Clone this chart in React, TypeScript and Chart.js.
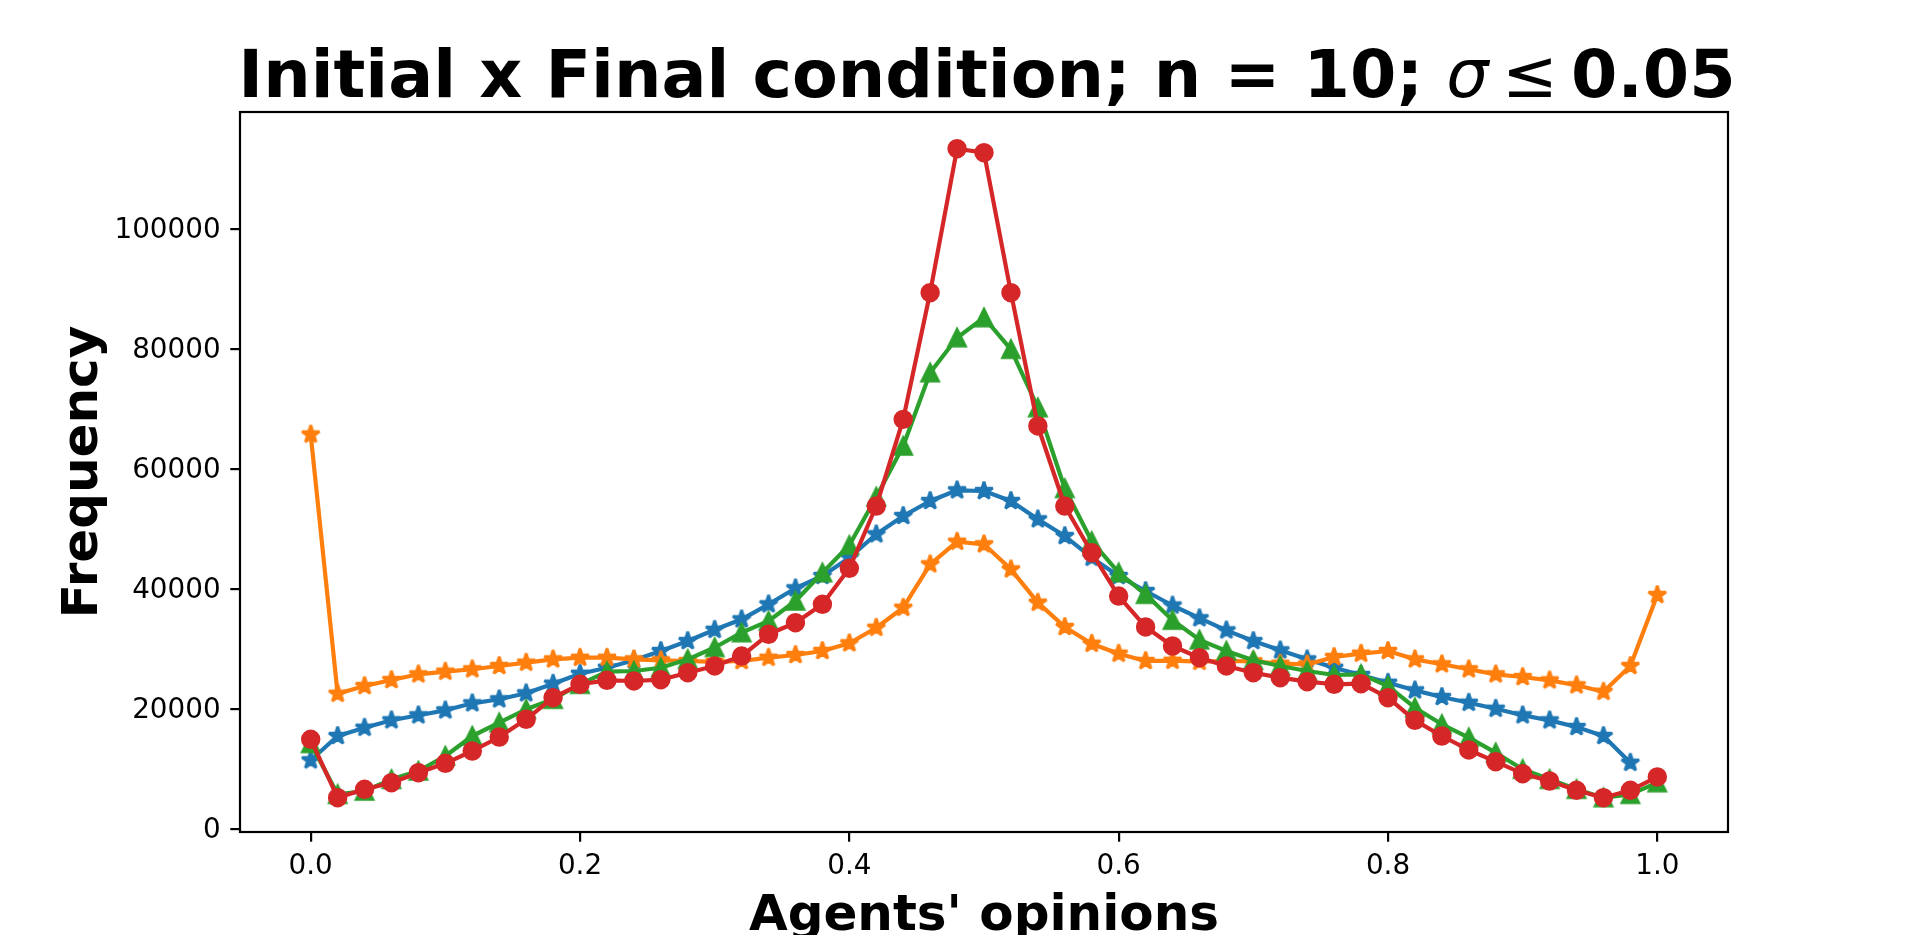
import React, { useEffect, useRef } from "react";
import { Chart, registerables } from "chart.js";

Chart.register(...registerables);

// ---- data ----
const opinions = [
  0.0, 0.02, 0.04, 0.06, 0.08, 0.1, 0.12, 0.14, 0.16, 0.18,
  0.2, 0.22, 0.24, 0.26, 0.28, 0.3, 0.32, 0.34, 0.36, 0.38,
  0.4, 0.42, 0.44, 0.46, 0.48, 0.5, 0.52, 0.54, 0.56, 0.58,
  0.6, 0.62, 0.64, 0.66, 0.68, 0.7, 0.72, 0.74, 0.76, 0.78,
  0.8, 0.82, 0.84, 0.86, 0.88, 0.9, 0.92, 0.94, 0.96, 0.98, 1.0,
];

const seriesBlue = [
  11400, 15450, 16830, 18070, 18900, 19730, 20900, 21570, 22570, 24170,
  25830, 26830, 28070, 29620, 31280, 33150, 34900, 37400, 40070, 42120,
  45170, 49070, 52120, 54620, 56400, 56280, 54620, 51570, 48780, 45170,
  42120, 39620, 37200, 35080, 33060, 31280, 29730, 28230, 26830, 25620,
  24330, 23060, 21950, 21000, 20000, 18900, 18060, 16950, 15450, 11000, null,
];

const seriesOrange = [
  65700, 22500, 23780, 24780, 25730, 26170, 26570, 27120, 27670, 28230,
  28500, 28500, 28230, 28070, 27950, 27800, 27950, 28500, 28950, 29620,
  30900, 33500, 36830, 44070, 47830, 47400, 43230, 37670, 33620, 30830,
  29170, 27950, 28000, 27830, 27950, 27900, 27500, 27380, 28620, 29170,
  29620, 28230, 27400, 26570, 25730, 25280, 24730, 23900, 22830, 27120, 38950,
];

const seriesGreen = [
  14200, 5730, 6280, 8230, 9620, 12120, 15450, 17670, 19900, 21570,
  24070, 26170, 26280, 26830, 28230, 30200, 32670, 34620, 37950, 42670,
  47250, 55300, 63780, 76000, 81830, 85170, 79900, 70170, 56700, 47900,
  42670, 39070, 34760, 31480, 29620, 28070, 27120, 26280, 25620, 25730,
  23780, 20170, 17400, 15170, 12670, 9900, 8230, 6570, 5170, 5730, 7670,
];

const seriesRed = [
  14900, 5170, 6570, 7670, 9330, 10900, 12950, 15280, 18230, 21830,
  24070, 24730, 24620, 24830, 26000, 27120, 28780, 32400, 34330, 37400,
  43400, 53780, 68220, 89330, 113330, 112670, 89330, 67120, 53780, 46000,
  38780, 33620, 30450, 28500, 27120, 26000, 25170, 24500, 24070, 24170,
  21830, 18060, 15450, 13120, 11170, 9170, 7950, 6400, 5170, 6400, 8620,
];

const xTickValues = [0.0, 0.2, 0.4, 0.6, 0.8, 1.0];
const yTickValues = [0, 20000, 40000, 60000, 80000, 100000];

const titleMain = "Initial x Final condition; n = 10; ";
const titleSymbol = "σ";
const titleRelation = "≤";
const titleValue = "0.05";
const xAxisTitle = "Agents' opinions";
const yAxisTitle = "Frequency";

const FONT = '"DejaVu Sans"';

function makeMarker(kind: "star" | "triangle", color: string): HTMLCanvasElement {
  const size = 34;
  const c = document.createElement("canvas");
  c.width = size;
  c.height = size;
  const ctx = c.getContext("2d")!;
  const cx = size / 2;
  const cy = size / 2;
  ctx.beginPath();
  if (kind === "star") {
    const r = 9.2;
    for (let i = 0; i < 10; i++) {
      const rad = i % 2 === 0 ? r : r * 0.381966;
      const a = -Math.PI / 2 + (i * Math.PI) / 5;
      const px = cx + rad * Math.cos(a);
      const py = cy + rad * Math.sin(a);
      if (i === 0) ctx.moveTo(px, py);
      else ctx.lineTo(px, py);
    }
    ctx.lineJoin = "bevel";
  } else {
    const r = 8.33;
    ctx.moveTo(cx, cy - r);
    ctx.lineTo(cx - r, cy + r);
    ctx.lineTo(cx + r, cy + r);
    ctx.lineJoin = "miter";
  }
  ctx.closePath();
  ctx.fillStyle = color;
  ctx.fill();
  ctx.lineWidth = 2.8;
  ctx.strokeStyle = color;
  ctx.stroke();
  return c;
}

const framePlugin = {
  id: "frame",
  afterDatasetsDraw(chart: any) {
    const { ctx, chartArea } = chart;
    ctx.save();
    ctx.strokeStyle = "#000";
    ctx.lineWidth = 2.2;
    ctx.strokeRect(
      chartArea.left,
      chartArea.top,
      chartArea.right - chartArea.left,
      chartArea.bottom - chartArea.top
    );
    ctx.restore();
  },
};

const titlePlugin = {
  id: "mixedTitle",
  afterDraw(chart: any) {
    const { ctx, chartArea } = chart;
    const size = 66.7;
    const gap = 0.2 * size;
    const parts: { t?: string; f?: string; gap?: number }[] = [
      { t: titleMain, f: `bold ${size}px ${FONT}` },
      { t: titleSymbol, f: `italic ${size}px ${FONT}` },
      { gap },
      { t: titleRelation, f: `${size}px ${FONT}` },
      { gap },
      { t: titleValue, f: `bold ${size}px ${FONT}` },
    ];
    ctx.save();
    let total = 0;
    const widths: number[] = parts.map((p) => {
      if (p.t) {
        ctx.font = p.f;
        const w = ctx.measureText(p.t).width;
        total += w;
        return w;
      }
      total += p.gap!;
      return p.gap!;
    });
    let x = (chartArea.left + chartArea.right) / 2 - total / 2 + 3;
    const baseline = 97;
    ctx.fillStyle = "#000";
    ctx.textBaseline = "alphabetic";
    ctx.textAlign = "left";
    parts.forEach((p, i) => {
      if (p.t) {
        ctx.font = p.f;
        ctx.fillText(p.t, x, baseline);
      }
      x += widths[i];
    });
    ctx.restore();
  },
};

export default function App() {
  const ref = useRef<HTMLCanvasElement>(null);

  useEffect(() => {
    if (!ref.current) return;
    const blue = "#1f77b4";
    const orange = "#ff7f0e";
    const green = "#2ca02c";
    const red = "#d62728";

    const toPoints = (vals: (number | null)[]) =>
      opinions.map((x, i) => ({ x, y: vals[i] }));

    const common = {
      borderWidth: 4.2,
      borderJoinStyle: "round" as const,
      tension: 0,
      fill: false,
      pointRadius: 8.33,
      pointHoverRadius: 8.33,
    };

    const chart = new Chart(ref.current, {
      type: "line",
      data: {
        datasets: [
          {
            ...common,
            label: "blue",
            data: toPoints(seriesBlue) as any,
            borderColor: blue,
            backgroundColor: blue,
            pointStyle: makeMarker("star", blue) as any,
            order: 4,
          },
          {
            ...common,
            label: "orange",
            data: toPoints(seriesOrange) as any,
            borderColor: orange,
            backgroundColor: orange,
            pointStyle: makeMarker("star", orange) as any,
            order: 3,
          },
          {
            ...common,
            label: "green",
            data: toPoints(seriesGreen) as any,
            borderColor: green,
            backgroundColor: green,
            pointStyle: makeMarker("triangle", green) as any,
            order: 2,
          },
          {
            ...common,
            label: "red",
            data: toPoints(seriesRed) as any,
            borderColor: red,
            backgroundColor: red,
            pointBackgroundColor: red,
            pointBorderColor: red,
            pointBorderWidth: 2.8,
            pointStyle: "circle",
            order: 1,
          },
        ],
      },
      options: {
        animation: false,
        responsive: true,
        maintainAspectRatio: false,
        devicePixelRatio: 1,
        layout: { padding: { top: 112, right: 192, left: 0, bottom: 0 } },
        plugins: {
          legend: { display: false },
          tooltip: { enabled: false },
          title: { display: false },
        },
        events: [],
        scales: {
          x: {
            type: "linear",
            min: -0.0525,
            max: 1.0525,
            afterBuildTicks: (s: any) => {
              s.ticks = xTickValues.map((v) => ({ value: v }));
            },
            afterFit: (s: any) => {
              s.height = 103;
            },
            ticks: {
              autoSkip: false,
              maxRotation: 0,
              padding: 8.5,
              color: "#000",
              font: { family: FONT, size: 27.8 },
              callback: (v: any) => Number(v).toFixed(1),
            },
            grid: {
              display: true,
              drawOnChartArea: false,
              drawTicks: true,
              tickLength: 9.7,
              color: "#000",
              lineWidth: 2.2,
            },
            border: { display: false },
            title: {
              display: true,
              text: xAxisTitle,
              color: "#000",
              font: { family: FONT, size: 50, weight: "bold", lineHeight: 0.7 },
              padding: { top: 0, bottom: 0 },
            },
          },
          y: {
            type: "linear",
            min: -550,
            max: 119450,
            afterBuildTicks: (s: any) => {
              s.ticks = yTickValues.map((v) => ({ value: v }));
            },
            afterFit: (s: any) => {
              s.width = 240;
            },
            ticks: {
              autoSkip: false,
              padding: 9.7,
              labelOffset: 2.5,
              color: "#000",
              font: { family: FONT, size: 27.8 },
              callback: (v: any) => String(v),
            },
            grid: {
              display: true,
              drawOnChartArea: false,
              drawTicks: true,
              tickLength: 9.7,
              color: "#000",
              lineWidth: 2.2,
            },
            border: { display: false },
            title: {
              display: true,
              text: yAxisTitle,
              color: "#000",
              font: { family: FONT, size: 50, weight: "bold", lineHeight: 1.2 },
              padding: { top: 54, bottom: 0 },
            },
          },
        },
      },
      plugins: [framePlugin, titlePlugin],
    });

    return () => chart.destroy();
  }, []);

  return (
    <div
      style={{
        position: "absolute",
        left: 0,
        top: 0,
        width: 1920,
        height: 935,
        background: "#fff",
      }}
    >
      <canvas ref={ref} />
    </div>
  );
}
